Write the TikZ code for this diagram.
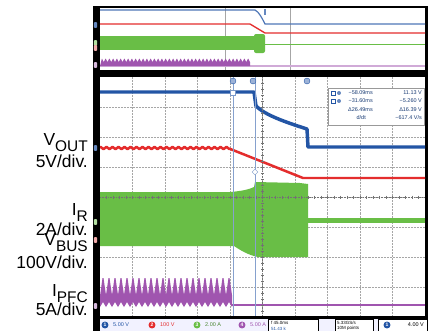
\documentclass[tikz,border=0pt]{standalone}
\usepackage{fontspec}
\setmainfont{Liberation Sans}
\usepackage{xcolor}
\usepackage{tikz}
\usetikzlibrary{arrows.meta}
\usetikzlibrary{calc}
\definecolor{chblue}{RGB}{35,85,165}
\definecolor{chred}{RGB}{228,45,45}
\definecolor{chgreen}{RGB}{105,190,70}
\definecolor{chpurple}{RGB}{160,85,175}
\colorlet{gridgray}{black!35}
\colorlet{barbg}{blue!5}
\newcommand\sig[2]{#1\raisebox{-6bp}{\fontsize{15.5}{15.5}\selectfont #2}}
\tikzstyle{lbl}=[anchor=base east,inner sep=0pt,font=\fontsize{17.5}{17.5}\selectfont]
\tikzstyle{gridln}=[gridgray,densely dotted,line width=.5pt]
\tikzstyle{trace}=[line width=2.5pt,line join=round]
\tikzstyle{chip}=[minimum width=3.5pt,minimum height=6pt,inner sep=0pt,rounded corners=1pt]
\tikzstyle{readout}=[inner sep=0pt,font=\fontsize{5.5}{5.5}\selectfont]
\tikzstyle{barbox}=[draw=black,line width=1pt,fill=white]
\tikzstyle{chnum}=[circle,inner sep=0pt,minimum size=7pt,text=white,font=\fontsize{5}{5}\selectfont\bfseries]
\tikzstyle{cursormk}=[circle,draw=chblue,fill=chblue!45,inner sep=0pt,minimum size=6pt]
\begin{document}
\begin{tikzpicture}[x=1bp,y=-1bp]
	\useasboundingbox (0,0) rectangle (430,331);
	% scope frame
	\fill[black] (93,6) rectangle (428,331);
	\fill[white] (100,8) rectangle (425,70);
	\fill[white] (100,77) rectangle (425,316);
	\fill[barbg] (100,319) rectangle (425,331);
	% overview panel
	\draw[gridgray,line width=.6pt] (225,8) -- (225,70) (290,8) -- (290,70);
	\draw[chblue!80,line width=1.2pt] (100,10) -- (255,10) .. controls (259,12) and (262,18) .. (265,24) -- (425,24);
	\node[fill=chblue!70,minimum width=3pt,minimum height=7pt,inner sep=0pt] (otrig) at (265,12) {};
	\draw[chred,line width=1.3pt] (100,24) -- (250,24) -- (265,33) -- (425,33);
	\fill[chgreen] (100,36) rectangle (258,50);
	\fill[chgreen,rounded corners=2pt] (254,34) rectangle (265,53);
	\draw[chgreen,line width=.8pt] (262,44) -- (425,44);
	\draw[chpurple!50,line width=1.2pt] (100,66) -- (425,66);
	\fill[chpurple] (100,66) \foreach \i in {0,...,39} {-- ({101.9+3.75*\i},58.5) -- ({103.75+3.75*\i},62)} -- (250,66) -- cycle;
	\node[chip,fill=chblue!70] (ob) at (95.5,25) {};
	\node[chip,fill=chgreen!50] (og) at (95.5,43) {};
	\node[chip,fill=chred!40] (or) at (95.5,48) {};
	\node[chip,fill=chpurple!40] (op) at (95.5,65) {};
	% main grid
	\foreach \i in {1,...,9} \draw[gridln] ({100+32.5*\i},77) -- ({100+32.5*\i},316);
	\foreach \j in {1,...,7} \draw[gridln] (100,{77+30*\j}) -- (425,{77+30*\j});
	% traces
	\fill[chgreen] (100,192) -- (230,192) .. controls (243,191) and (250,189) .. (254,187) -- (255,182) -- (300,183) -- (308,184)
		-- (308,257) -- (258,257) .. controls (248,255) and (240,250) .. (234,246) -- (100,246) -- cycle;
	\fill[chgreen] (308,218) rectangle (425,223);
	\draw[chblue,line width=3.5pt,line join=round] (100,92) -- (254,92) -- (256,106) .. controls (265,115) and (285,122) .. (307,129) -- (308,147) -- (425,147);
	\draw[chred,trace] plot[domain=100:230,samples=131] (\x,{148+sin(\x*60)}) -- (303,178) -- (425,178);
	\fill[chpurple] (100,296) \foreach \i in {0,...,21} {-- ({102.5+6*\i},278) -- ({103.5+6*\i},278) -- ({106+6*\i},295)} -- (232,298)
		-- (232,307) \foreach \i in {21,...,0} {-- ({103+6*\i},302) -- ({100+6*\i},307)} -- cycle;
	\draw[chpurple,line width=2pt] (232,305) -- (425,305);
	% centre axes
	\draw[black!55,densely dotted,line width=.6pt] (262.5,77) -- (262.5,316) (100,197) -- (425,197);
	\foreach \k in {1,...,49} \draw[black!55,line width=.4pt] ({100+6.5*\k},195.5) -- ({100+6.5*\k},198.5);
	\foreach \k in {1,...,39} \draw[black!55,line width=.4pt] (261,{77+6*\k}) -- (264,{77+6*\k});
	% cursors
	\draw[chblue!55,line width=.6pt] (233,77) -- (233,316) (255,77) -- (255,316);
	\node[cursormk] (ca) at (233,81) {};
	\node[cursormk] (cb) at (253,81) {};
	\node[cursormk] (trig) at (307,81) {};
	\node[draw=chblue!60,fill=white,minimum size=5pt,inner sep=0pt] (csq) at (233,93) {};
	\node[draw=chblue!60,fill=white,minimum size=4pt,inner sep=0pt,rotate=45] (cdm) at (255,172) {};
	\node[chip,fill=chblue!70] (mb) at (95.5,148) {};
	\node[chip,fill=chgreen!50] (mg) at (95.5,222) {};
	\node[chip,fill=chred!40] (mr) at (95.5,240) {};
	\node[chip,fill=chpurple!40] (mp) at (95.5,306) {};
	% cursor readout
	\node[draw=black!40,fill=white,minimum width=96bp,minimum height=37bp,inner sep=0pt] (cbox) at (376,106.5) {};
	\node[draw=chblue,minimum size=4pt,inner sep=0pt] (ic1) at (333,93) {};
	\node[circle,fill=chblue!70,minimum size=4pt,inner sep=0pt] (ic2) at (339,93) {};
	\node[draw=chblue,minimum size=4pt,inner sep=0pt] (ic3) at (333,101) {};
	\node[circle,fill=chblue!70,minimum size=4pt,inner sep=0pt] (ic4) at (339,101) {};
	\node[readout,anchor=east,text=chblue!70!black] (t1) at (373,93) {−58.09ms};
	\node[readout,anchor=east,text=chblue!70!black] (t2) at (373,101) {−31.60ms};
	\node[readout,anchor=east,text=chblue!70!black] (t3) at (373,109.5) {Δ26.49ms};
	\node[readout,anchor=east,text=chblue!70!black] (t4) at (366,118) {d/dt};
	\node[readout,anchor=east,text=chblue!70!black] (v1) at (422,93) {11.13 V};
	\node[readout,anchor=east,text=chblue!70!black] (v2) at (422,101) {−5.260 V};
	\node[readout,anchor=east,text=chblue!70!black] (v3) at (422,109.5) {Δ16.39 V};
	\node[readout,anchor=east,text=chblue!70!black] (v4) at (422,118) {−617.4 V/s};
	% bottom bar
	\node[chnum,fill=chblue] (n1) at (105,325) {1};
	\node[readout,anchor=west,text=chblue] (s1) at (113,325) {5.00 V};
	\node[chnum,fill=chred] (n2) at (152,325) {2};
	\node[readout,anchor=west,text=chred] (s2) at (160,325) {100 V};
	\node[chnum,fill=chgreen] (n3) at (197,325) {3};
	\node[readout,anchor=west,text=chgreen!70!black] (s3) at (205,325) {2.00 A};
	\node[chnum,fill=chpurple] (n4) at (242,325) {4};
	\node[readout,anchor=west,text=chpurple] (s4) at (250,325) {5.00 A};
	\draw[barbox] (268,319) rectangle (318,332);
	\node[readout,anchor=west,font=\fontsize{4.5}{4.5}\selectfont] (hz) at (271,322.5) {f 45.0ms};
	\node[readout,anchor=west,text=chblue,font=\fontsize{4.5}{4.5}\selectfont] (hp) at (271,328.5) {51.43 k};
	\draw[barbox] (335,319) rectangle (373,332);
	\node[readout,anchor=west,font=\fontsize{4.5}{4.5}\selectfont] (sr) at (337,322.5) {5.33GS/s};
	\node[readout,anchor=west,font=\fontsize{4.5}{4.5}\selectfont] (rl) at (337,328.5) {10M points};
	\draw[barbox] (378,319) rectangle (427,332);
	\node[chnum,fill=chblue] (tn) at (387,325) {1};
	\node[readout,anchor=east] (tl) at (424,325) {4.00 V};
	% labels
	\node[lbl] (vout) at (88,145) {\sig{V}{OUT}};
	\node[lbl] (voutdiv) at (88,167) {5V/div.};
	\node[lbl] (ir) at (88,215) {\sig{I}{R}};
	\node[lbl] (irdiv) at (88,235) {2A/div.};
	\node[lbl] (vbus) at (88,245) {\sig{V}{BUS}};
	\node[lbl] (vbusdiv) at (88,268) {100V/div.};
	\node[lbl] (ipfc) at (88,296) {\sig{I}{PFC}};
	\node[lbl] (ipfcdiv) at (88,315) {5A/div.};
\end{tikzpicture}
\end{document}
